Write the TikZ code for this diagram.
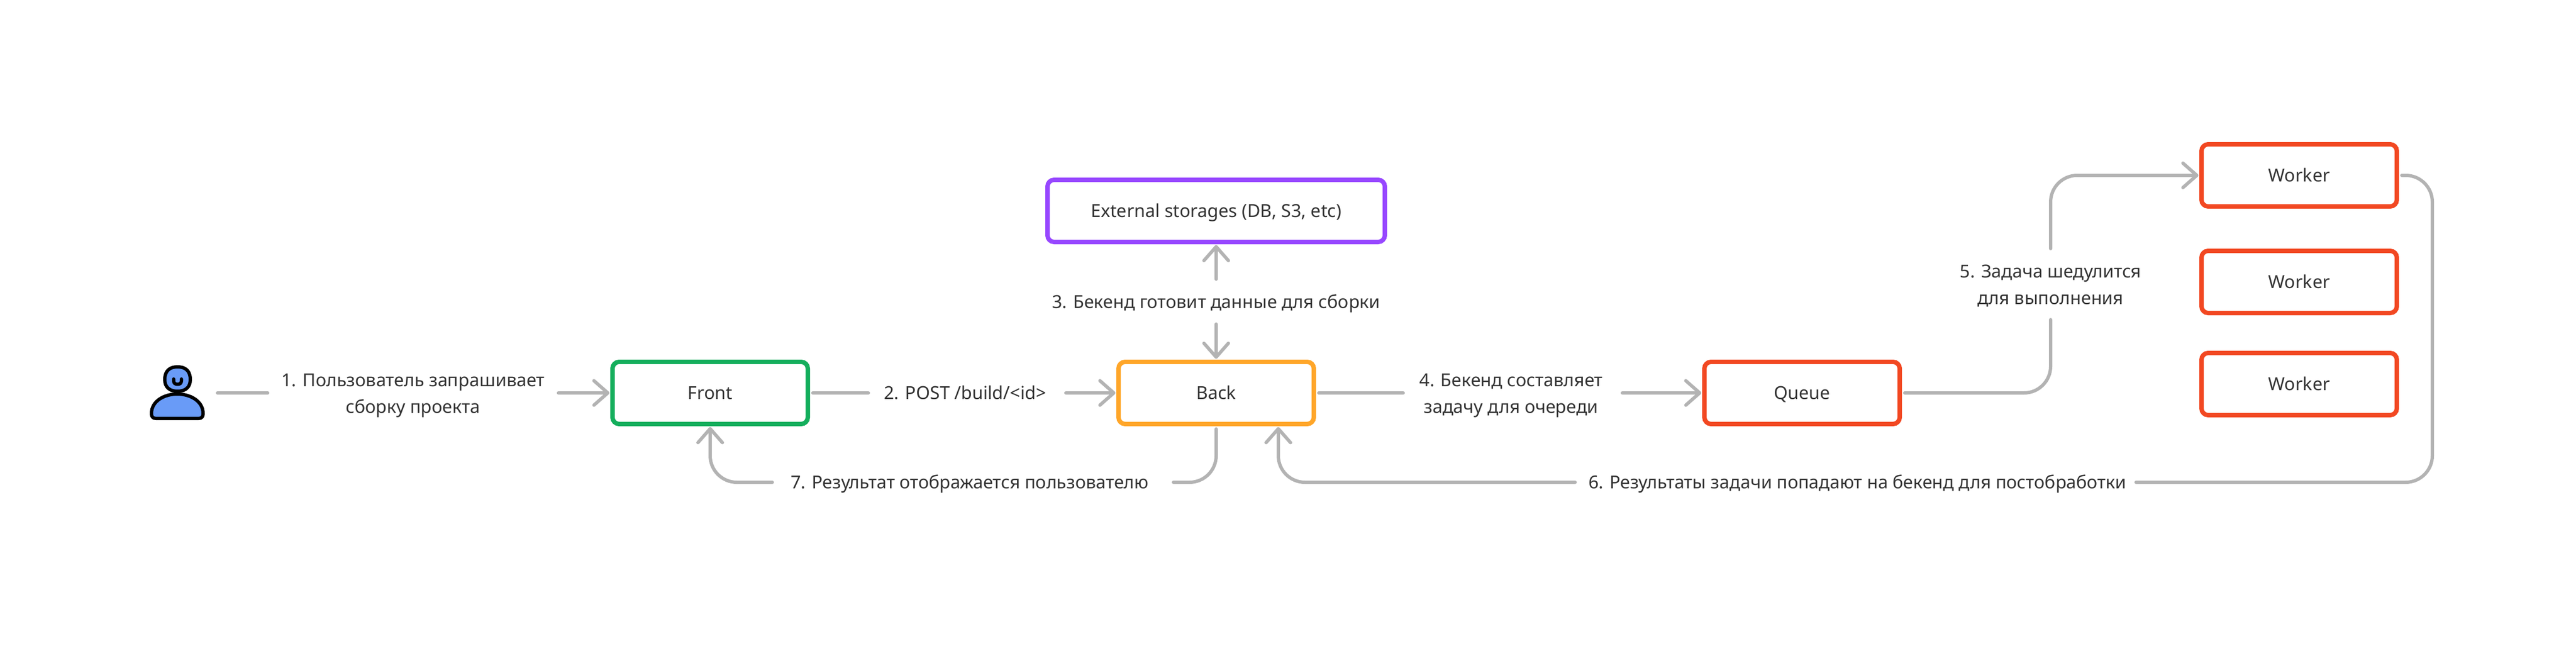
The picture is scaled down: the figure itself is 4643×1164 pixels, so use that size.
\documentclass[tikz,border=0pt]{standalone}
\usepackage{fontspec}
\setmainfont{Noto Sans}
\usetikzlibrary{arrows.meta}
\definecolor{cgreen}{HTML}{14AE5C}
\definecolor{corange}{HTML}{FFA629}
\definecolor{cpurple}{HTML}{9747FF}
\definecolor{cred}{HTML}{F24822}
\definecolor{cblue}{HTML}{699BF7}
\definecolor{cgray}{HTML}{B3B3B3}
\definecolor{ctext}{HTML}{333333}
\newcommand\onel[1]{\rule{0pt}{23pt}\smash{#1}}
\newcommand\twol[2]{\rule{0pt}{32pt}\smash{#1}\\\smash{#2}\rule[-8pt]{0pt}{8pt}}
\tikzset{
  txt/.style={font=\fontsize{32.3}{48}\selectfont, text=ctext, inner sep=0pt, outer sep=0pt, align=center},
  boxn/.style={txt, draw=#1, line width=8pt, rounded corners=12pt, minimum width=352pt, minimum height=112pt, outer sep=4pt},
  lab/.style={txt, minimum width=#1},
  conn/.style={draw=cgray, line width=6pt, line cap=round, line join=round, rounded corners=48pt},
  tipped/.style={conn, -{Straight Barb[length=25pt,width=44pt,line cap=round,line join=round]}, shorten >=1.5pt},
  person/.style={draw=black, line width=6pt, fill=cblue, line join=round, line cap=round}
}
\begin{document}
\begin{tikzpicture}[x=1pt,y=-1pt]
\useasboundingbox (0,0) rectangle (4643,1164);
% person
\draw[person] (273,745) .. controls (273,722) and (297,710) .. (319.5,710)
  .. controls (342,710) and (366,722) .. (366,745) -- (366,746)
  .. controls (366,751) and (363,754) .. (358,754) -- (281,754)
  .. controls (276,754) and (273,751) .. (273,746) -- cycle;
\draw[person] (297,684) .. controls (297,668) and (306,661) .. (320,661)
  .. controls (334,661) and (343,668) .. (343,684)
  .. controls (343,698) and (334,705) .. (320,705)
  .. controls (306,705) and (297,698) .. (297,684) -- cycle;
\draw[person, fill=none] (313,683) -- (313,686) .. controls (313,690.5) and (316,692.5) .. (320,692.5)
  .. controls (324,692.5) and (327,690.5) .. (327,686) -- (327,683);
\coordinate (pe) at (392,708);
% boxes
\node[boxn=cgreen] (front) at (1280,708) {\onel{Front}};
\node[boxn=corange] (back) at (2192,708) {\onel{Back}};
\node[boxn=cpurple, minimum width=608pt] (ext) at (2192,380) {\onel{External storages (DB, S3, etc)}};
\node[boxn=cred] (queue) at (3248,708) {\onel{Queue}};
\node[boxn=cred] (w1) at (4144,316) {\onel{Worker}};
\node[boxn=cred] (w2) at (4144,508) {\onel{Worker}};
\node[boxn=cred] (w3) at (4144,692) {\onel{Worker}};
% labels
\node[lab=524pt] (l1) at (744.5,708) {\twol{1. Пользователь запрашивает}{сборку проекта}};
\node[lab=349pt] (l2) at (1739.6,708) {\onel{2. POST /build/<id>}};
\node[lab=10pt, minimum height=81pt] (l3) at (2192,543.5) {\onel{3. Бекенд готовит данные для сборки}};
\node[lab=389pt] (l4) at (2723.6,708) {\twol{4. Бекенд составляет}{задачу для очереди}};
\node[lab=10pt, minimum height=128pt] (l5) at (3696,512) {\twol{5. Задача шедулится}{для выполнения}};
\node[lab=1004pt] (l6) at (3348,869) {\onel{6. Результаты задачи попадают на бекенд для постобработки}};
\node[lab=712pt] (l7) at (1748,869) {\onel{7. Результат отображается пользователю}};
\coordinate (c6) at (4384,869);
\coordinate (backin) at (2304,768);
% connectors
\draw[conn] (pe) -- (l1.west);
\draw[tipped] (l1.east) -- (front.west);
\draw[conn, shorten <=5pt] (front.east) -- (l2.west);
\draw[tipped, shorten <=7pt] (l2.east) -- (back.west);
\draw[tipped] (l3.north) -- (ext.south);
\draw[tipped] (l3.south) -- (back.north);
\draw[conn, shorten <=5pt] (back.east) -- (l4.west);
\draw[tipped, shorten <=6pt] (l4.east) -- (queue.west);
\draw[conn, shorten <=5pt] (queue.east) -| (l5.south);
\draw[tipped] (l5.north) |- (w1.west);
\draw[conn, shorten <=5pt] (w1.east) -| (c6) -- (l6.east);
\draw[tipped, shorten <=7pt] (l6.west) -| (backin);
\draw[conn, shorten <=5pt, shorten >=11pt] (back.south) |- (l7.east);
\draw[tipped] (l7.west) -| (front.south);
\end{tikzpicture}
\end{document}
